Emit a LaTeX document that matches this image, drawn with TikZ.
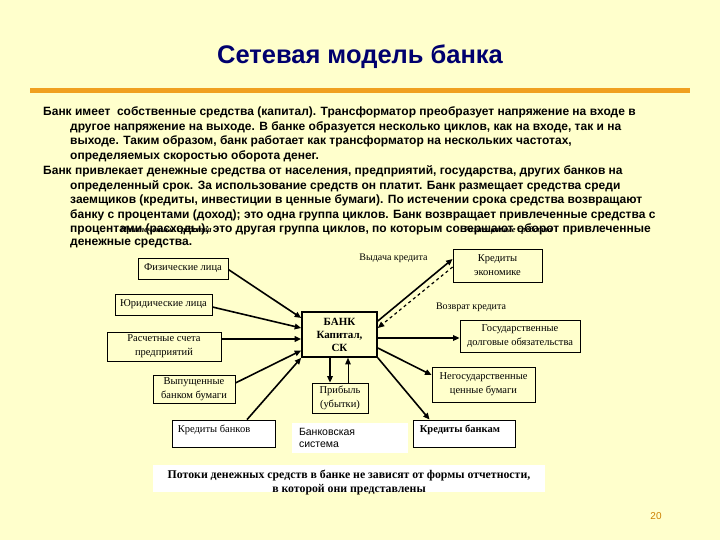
\documentclass[tikz,border=0pt]{standalone}
\usepackage{fontspec}
\setmainfont{Liberation Serif}
\newfontfamily\arialf{Liberation Sans}
\usetikzlibrary{arrows.meta,calc}
\definecolor{bgc}{RGB}{255,255,204}
\definecolor{rulec}{RGB}{240,160,32}
\definecolor{titlec}{RGB}{0,0,110}
\definecolor{numc}{RGB}{204,128,0}
\begin{document}
\begin{tikzpicture}[x=1pt,y=-1pt,
  box/.style={draw,line width=0.8pt,inner sep=1pt,align=center,font=\fontsize{10.5}{14}\selectfont},
  wbox/.style={fill=white,inner sep=0pt},
  para/.style={anchor=west,inner sep=0pt,font=\arialf\bfseries\fontsize{12}{13}\selectfont},
  lbl/.style={inner sep=0pt,font=\fontsize{10}{12}\selectfont},
  ital/.style={inner sep=0pt,font=\itshape\bfseries\fontsize{8.5}{10}\selectfont},
  arr/.style={line width=1.6pt,-{Triangle[length=6.5pt,width=5.5pt]}},
  tarr/.style={line width=0.9pt,-{Triangle[length=6.5pt,width=5.5pt]}}
]
\useasboundingbox (0,0) rectangle (720,540);
\fill[bgc] (0,0) rectangle (720,540);

% title and rule
\node[font=\arialf\bfseries\fontsize{25.5}{30}\selectfont,text=titlec] (title) at (360,57) {Сетевая модель банка};
\fill[rulec] (30,88) rectangle (690,93);

% paragraphs
\node[para] (p1) at (43,112) {Банк имеет\ \ собственные средства (капитал). Трансформатор преобразует напряжение на входе в};
\node[para] (p2) at (70,127) {другое напряжение на выходе. В банке образуется несколько циклов, как на входе, так и на};
\node[para] (p3) at (70,141) {выходе. Таким образом, банк работает как трансформатор на нескольких частотах,};
\node[para] (p4) at (70,156) {определяемых скоростью оборота денег.};
\node[para] (p5) at (43,171) {Банк привлекает денежные средства от населения, предприятий, государства, других банков на};
\node[para] (p6) at (70,186) {определенный срок. За использование средств он платит. Банк размещает средства среди};
\node[para] (p7) at (70,200) {заемщиков (кредиты, инвестиции в ценные бумаги). По истечении срока средства возвращают};
\node[para] (p8) at (70,215) {банку с процентами (доход); это одна группа циклов. Банк возвращает привлеченные средства с};
\node[para] (p9) at (70,229) {процентами (расходы); это другая группа циклов, по которым совершают оборот привлеченные};
\node[para] (p10) at (70,244) {денежные средства.};
\node[ital] (it1) at (166,230) {Привлеченные средства};
\node[ital] (it2) at (508,230) {Размещенные средства};

% boxes
\node[box,minimum width=90pt,minimum height=21pt] (fiz) at (183,268.5) {Физические лица};
\node[box,minimum width=97pt,minimum height=21pt,inner sep=0pt] (yur) at (163.5,304.5) {Юридические лица};
\node[box,minimum width=114pt,minimum height=29pt] (rasch) at (164,346.5) {Расчетные счета\\предприятий};
\node[box,minimum width=82pt,minimum height=28pt] (vyp) at (194,389) {Выпущенные\\банком бумаги};
\node[box,fill=white,minimum width=103pt,minimum height=27pt] (krb) at (223.5,433.5) {};
\node[lbl,anchor=west,font=\fontsize{10.5}{12}\selectfont] (krbt) at ([xshift=6pt,yshift=-10pt]krb.north west) {Кредиты банков};
\node[box,line width=1.6pt,minimum width=75pt,minimum height=45pt,font=\bfseries\fontsize{11}{13}\selectfont] (bank) at (339.5,334.5) {БАНК\\Капитал,\\СК};
\node[box,minimum width=56pt,minimum height=30pt] (prib) at (340,398) {Прибыль\\(убытки)};
\node[wbox,minimum width=116pt,minimum height=30pt] (bsys) at (350,438) {};
\node[anchor=north west,inner sep=0pt,align=left,font=\arialf\fontsize{10.5}{12.5}\selectfont] (bsyst) at ([xshift=7pt,yshift=-5pt]bsys.north west) {Банковская\\система};
\node[box,minimum width=89pt,minimum height=33pt] (kreco) at (497.5,265.5) {Кредиты\\экономике};
\node[box,minimum width=120pt,minimum height=32pt,inner sep=0pt] (gos) at (520,336) {Государственные\\долговые обязательства};
\node[box,minimum width=103pt,minimum height=35pt] (negos) at (483.5,384.5) {Негосударственные\\ценные бумаги};
\node[box,fill=white,minimum width=102pt,minimum height=27pt] (krbm) at (464,433.5) {};
\node[lbl,anchor=west,font=\bfseries\fontsize{10.5}{12}\selectfont] (krbmt) at ([xshift=7pt,yshift=-10pt]krbm.north west) {Кредиты банкам};
\node[wbox,minimum width=392pt,minimum height=27pt] (note) at (349,478.5) {};
\node[inner sep=0pt,align=center,font=\bfseries\fontsize{11.8}{14}\selectfont] (notet) at (349,483) {Потоки денежных средств в банке не зависят от формы отчетности,\\в которой они представлены};

% labels
\node[lbl] (vyd) at (393.5,258) {Выдача кредита};
\node[lbl] (vozv) at (471,307) {Возврат кредита};
\node[font=\arialf\fontsize{10}{12}\selectfont,text=numc] (pg) at (656,516) {20};

% connectors
\draw[arr] ([yshift=-1pt]fiz.east) -- ([yshift=16.5pt]bank.west);
\draw[arr] ([yshift=-2.5pt]yur.east) -- ([yshift=6.5pt]bank.west);
\draw[arr] ([yshift=7.5pt]rasch.east) -- ([yshift=-4.5pt]bank.west);
\draw[arr] ([yshift=6pt]vyp.east) -- ([yshift=-16pt]bank.west);
\draw[arr] ([xshift=23.5pt]krb.north) -- (bank.south west);
\draw[arr] ([yshift=13.5pt]bank.east) -- ([yshift=6.5pt]kreco.west);
\draw[arr,dashed,line width=1.2pt] ([yshift=-1.5pt]kreco.west) -- ([yshift=6.5pt]bank.east);
\draw[arr] ([yshift=-3.5pt]bank.east) -- ([yshift=-3.5pt]bank.east -| gos.west);
\draw[arr] ([yshift=-13.5pt]bank.east) -- ([yshift=9.5pt]negos.west);
\draw[arr] (bank.south east) -- ([xshift=17pt]krbm.north west);
\draw[arr] ([xshift=-9.5pt]bank.south) -- ([xshift=-9.5pt]bank.south |- prib.north);
\draw[tarr] ([xshift=8.5pt]bank.south |- prib.north) -- ([xshift=8.5pt]bank.south);
\end{tikzpicture}
\end{document}
